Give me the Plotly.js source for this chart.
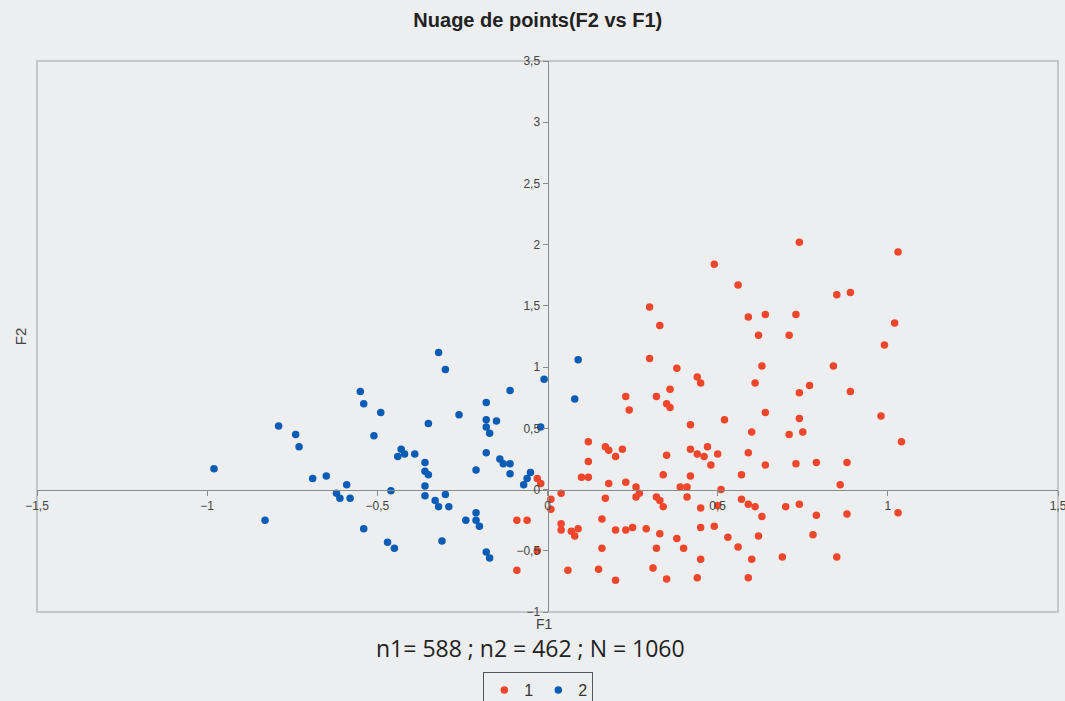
<!DOCTYPE html>
<html>
<head>
<meta charset="utf-8">
<script src="https://cdn.plot.ly/plotly-3.0.1.min.js"></script>
<style>html,body{margin:0;padding:0;background:#eceeef;}#chart{width:1065px;height:701px;}</style>
</head>
<body>
<div id="chart"></div>
<script>
// Group 1 (red)
const f1_g1 = [-0.03,-0.02,0.04,0.01,0.01,-0.09,-0.06,-0.03,-0.09,0.04,0.04,
  0.30,0.38,0.44,0.45,0.36,0.23,0.32,0.24,0.35,0.36,0.42,0.12,0.17,0.18,0.22,0.20,0.42,0.44,0.35,
  0.12,0.10,0.12,0.34,0.42,0.18,0.23,0.26,0.39,0.41,0.27,0.26,0.32,0.33,0.34,0.41,0.17,0.45,0.16,
  0.07,0.09,0.08,0.20,0.23,0.25,0.29,0.33,0.38,0.45,0.16,0.32,0.40,0.45,0.06,0.15,0.31,0.20,0.35,0.44,
  0.49,0.56,0.30,0.33,0.59,0.64,0.62,0.71,0.63,0.61,0.52,0.64,0.60,0.71,
  0.74,0.85,0.73,0.84,0.77,0.74,0.74,0.75,0.47,0.46,0.50,0.48,0.59,0.64,0.73,0.79,0.57,0.51,0.86,
  0.50,0.57,0.59,0.61,0.63,0.70,0.74,0.79,0.49,0.53,0.62,0.78,0.56,0.60,0.69,0.85,0.59,
  1.03,0.89,1.02,0.99,0.89,0.98,1.04,0.88,0.88,1.03];
const f2_g1 = [0.09,0.05,-0.03,-0.08,-0.16,-0.25,-0.25,-0.50,-0.66,-0.28,-0.33,
  1.07,0.99,0.92,0.87,0.82,0.76,0.76,0.65,0.70,0.67,0.53,0.39,0.35,0.32,0.33,0.27,0.33,0.29,0.28,
  0.23,0.10,0.10,0.12,0.11,0.05,0.06,0.02,0.02,0.02,-0.03,-0.06,-0.06,-0.09,-0.14,-0.06,-0.07,-0.15,-0.24,
  -0.34,-0.32,-0.38,-0.33,-0.33,-0.31,-0.32,-0.36,-0.40,-0.31,-0.48,-0.48,-0.48,-0.57,-0.66,-0.65,-0.64,-0.74,-0.73,-0.72,
  1.84,1.67,1.49,1.34,1.41,1.43,1.26,1.26,1.01,0.87,0.57,0.63,0.47,0.45,
  2.02,1.59,1.43,1.01,0.85,0.79,0.58,0.47,0.35,0.27,0.29,0.20,0.30,0.20,0.21,0.22,0.12,0.00,0.04,
  -0.13,-0.08,-0.12,-0.14,-0.22,-0.14,-0.12,-0.21,-0.30,-0.39,-0.38,-0.37,-0.47,-0.57,-0.55,-0.55,-0.72,
  1.94,1.61,1.36,1.18,0.80,0.60,0.39,0.22,-0.20,-0.19];

// Group 2 (blue)
const f1_g2 = [-0.55,-0.54,-0.49,-0.79,-0.74,-0.73,-0.51,-0.98,-0.69,-0.65,-0.59,-0.62,-0.61,-0.58,-0.83,-0.54,
  -0.32,-0.30,-0.01,-0.11,-0.18,-0.26,-0.18,-0.15,-0.35,-0.18,-0.02,-0.17,-0.43,-0.44,-0.42,-0.39,-0.18,
  -0.14,-0.13,-0.11,-0.36,-0.36,-0.35,-0.21,-0.11,-0.05,-0.06,-0.07,-0.36,-0.46,-0.36,-0.30,-0.33,-0.32,
  -0.29,-0.21,-0.24,-0.21,-0.20,-0.31,-0.47,-0.45,-0.18,-0.17,0.09,0.08];
const f2_g2 = [0.80,0.70,0.63,0.52,0.45,0.35,0.44,0.17,0.09,0.11,0.04,-0.03,-0.07,-0.07,-0.25,-0.32,
  1.12,0.98,0.90,0.81,0.71,0.61,0.57,0.56,0.54,0.51,0.51,0.46,0.33,0.27,0.29,0.29,0.30,
  0.25,0.21,0.21,0.22,0.15,0.12,0.16,0.13,0.14,0.09,0.04,0.03,-0.01,-0.05,-0.04,-0.09,-0.14,
  -0.14,-0.19,-0.25,-0.25,-0.30,-0.42,-0.43,-0.48,-0.51,-0.56,1.06,0.74];

const seriesNames = ['1', '2'];
const xTicks = [-1.5,-1,-0.5,0,0.5,1,1.5];
const yTicks = [-1,-0.5,0,0.5,1,1.5,2,2.5,3,3.5];
const chartTitle = 'Nuage de points(F2 vs F1)';
const noteText = 'n1= 588 ; n2 = 462 ; N = 1060';

const traces = [
  {x: f1_g1, y: f2_g1, name: seriesNames[0], type: 'scatter', mode: 'markers',
   marker: {color: '#f0462b', size: 7.5}},
  {x: f1_g2, y: f2_g2, name: seriesNames[1], type: 'scatter', mode: 'markers',
   marker: {color: '#0b5cb5', size: 7.5}}
];

const axisCommon = {
  showgrid: false, zeroline: false, showline: true, linecolor: '#8a8a8a', linewidth: 1.3,
  ticks: 'outside', ticklen: 5, tickcolor: '#8a8a8a',
  tickfont: {family: 'Liberation Sans Narrow, Liberation Sans, Arial', size: 12, color: '#444'},
  tickmode: 'array', anchor: 'free', fixedrange: true, automargin: false,
  ticklabeloverflow: 'allow'
};

const layout = {
  width: 1065, height: 701,
  paper_bgcolor: '#eceeef', plot_bgcolor: '#eceeef',
  separators: ', ',
  margin: {l: 37, r: 7, t: 61, b: 89, autoexpand: false},
  showlegend: true,
  title: {text: '<b>' + chartTitle + '</b>', x: 0.505, xanchor: 'center', y: 0.971, yanchor: 'middle',
          automargin: false,
          font: {family: 'Liberation Sans Narrow, Liberation Sans, Arial', size: 20, color: '#222'}},
  xaxis: Object.assign({}, axisCommon, {range: [-1.5, 1.5], tickvals: xTicks, position: 1/4.5}),
  yaxis: Object.assign({}, axisCommon, {range: [-1, 3.5], tickvals: yTicks, position: 0.5}),
  legend: {orientation: 'h', x: 0.491, xanchor: 'center', y: -0.109, yanchor: 'top',
           bordercolor: '#555', borderwidth: 1, bgcolor: 'rgba(0,0,0,0)',
           font: {family: 'Liberation Sans, Arial', size: 16, color: '#333'},
           itemwidth: 30, tracegroupgap: 0},
  shapes: [{type: 'rect', xref: 'paper', yref: 'paper', x0: 0, x1: 1, y0: 0, y1: 1, layer: 'below',
            line: {color: '#c4c6c8', width: 2}}],
  annotations: [
    {text: 'F1', xref: 'paper', yref: 'paper', x: 0.497, y: -0.022, xanchor: 'center', yanchor: 'middle',
     showarrow: false, font: {family: 'Liberation Sans, Arial', size: 14, color: '#444'}},
    {text: 'F2', xref: 'paper', yref: 'paper', x: -0.016, y: 0.5, xanchor: 'center', yanchor: 'middle',
     textangle: -90, showarrow: false, font: {family: 'Liberation Sans, Arial', size: 15, color: '#444'}},
    {text: noteText, xref: 'paper', yref: 'paper', x: 0.483, y: -0.066, xanchor: 'center', yanchor: 'middle',
     showarrow: false, font: {family: 'Open Sans, Liberation Sans, Arial', size: 23, color: '#222'}}
  ]
};

Plotly.newPlot('chart', traces, layout, {displayModeBar: false, staticPlot: true});
</script>
</body>
</html>
